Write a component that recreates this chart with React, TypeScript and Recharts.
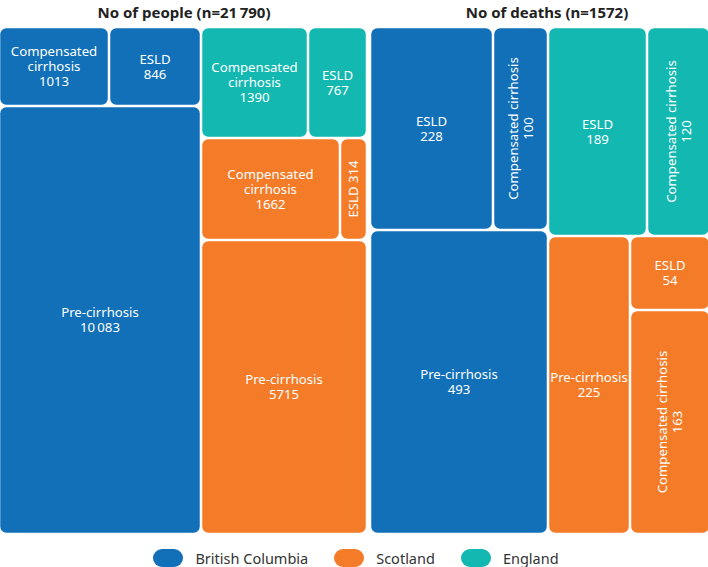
import React from 'react';
import { Treemap } from 'recharts';

// stage order used in the value arrays below
const stages = ['Pre-cirrhosis', 'Compensated cirrhosis', 'ESLD'];
const countries = ['British Columbia', 'Scotland', 'England'];

const peopleBritishColumbia = [10083, 1013, 846];
const peopleScotland = [5715, 1662, 314];
const peopleEngland = [0, 1390, 767]; // England cohort: cirrhosis only

const deathsBritishColumbia = [493, 100, 228];
const deathsScotland = [225, 163, 54];
const deathsEngland = [0, 120, 189];

const countryColors: Record<string, string> = {
  'British Columbia': '#1170b8',
  Scotland: '#f47b28',
  England: '#13b8b1',
};

const FONT = '"Noto Sans", sans-serif';
const LABEL_SIZE = 13.2;
const LINE_H = 15;

const leaf = (country: string, values: number[], stage: number) => ({
  name: stages[stage],
  country,
  size: values[stage],
});

// the groupings only decide how the cells are nested, like in the figure
const peopleTree = [
  {
    name: 'British Columbia',
    children: [1, 2, 0].map((s) => leaf('British Columbia', peopleBritishColumbia, s)),
  },
  {
    name: 'England and Scotland',
    children: [
      { name: 'England', children: [1, 2].map((s) => leaf('England', peopleEngland, s)) },
      { name: 'Scotland', children: [1, 2, 0].map((s) => leaf('Scotland', peopleScotland, s)) },
    ],
  },
];

const deathsTree = [
  {
    name: 'British Columbia',
    children: [2, 1, 0].map((s) => leaf('British Columbia', deathsBritishColumbia, s)),
  },
  {
    name: 'England and Scotland',
    children: [
      { name: 'England', children: [2, 1].map((s) => leaf('England', deathsEngland, s)) },
      {
        name: 'Scotland',
        children: [
          leaf('Scotland', deathsScotland, 0),
          { name: 'Scotland cirrhosis', children: [2, 1].map((s) => leaf('Scotland', deathsScotland, s)) },
        ],
      },
    ],
  },
];

const fmt = (v: number) => (v >= 10000 ? v.toString().replace(/\B(?=(\d{3})+(?!\d))/g, '\u2009') : String(v));

let ctx: CanvasRenderingContext2D | null = null;
const textWidth = (s: string) => {
  if (!ctx) ctx = document.createElement('canvas').getContext('2d');
  if (!ctx) return s.length * 7;
  ctx.font = `${LABEL_SIZE}px ${FONT}`;
  return ctx.measureText(s).width;
};

const wrap = (text: string, max: number) => {
  const lines: string[] = [];
  let cur = '';
  text.split(' ').forEach((w) => {
    const next = cur ? cur + ' ' + w : w;
    if (cur && textWidth(next) > max) {
      lines.push(cur);
      cur = w;
    } else cur = next;
  });
  if (cur) lines.push(cur);
  return lines;
};

const INSET = 1.25;

const CellContent = (props: any) => {
  const { x, y, width, height, name, country, size, children } = props;
  if (children && children.length) return null;
  if (!country || width <= 0 || height <= 0) return null;
  const rx = x + INSET;
  const ry = y + INSET;
  const w = width - INSET * 2;
  const h = height - INSET * 2;
  const cx = rx + w / 2;
  const cy = ry + h / 2;

  const longestWord = Math.max(...name.split(' ').map(textWidth));
  const horizontal = longestWord <= w;
  let lines: string[];
  let rotate = false;
  if (horizontal) {
    lines = [...wrap(name, w - 10), fmt(size)];
  } else {
    rotate = true;
    lines = w >= LINE_H * 2 + 6 ? [...wrap(name, h - 10), fmt(size)] : [`${name} ${fmt(size)}`];
  }
  const first = -((lines.length - 1) / 2) * LINE_H;

  return (
    <g>
      <rect x={rx} y={ry} width={w} height={h} rx={6} ry={6} fill={countryColors[country]} />
      <text
        x={cx}
        y={cy}
        textAnchor="middle"
        fill="#ffffff"
        fontFamily={FONT}
        fontSize={LABEL_SIZE}
        transform={rotate ? `rotate(-90 ${cx} ${cy})` : undefined}
      >
        {lines.map((l, i) => (
          <tspan key={i} x={cx} y={cy + first + i * LINE_H} dy="0.35em">
            {l}
          </tspan>
        ))}
      </text>
    </g>
  );
};

const titleStyle: React.CSSProperties = {
  position: 'absolute',
  top: 2,
  fontFamily: FONT,
  fontWeight: 700,
  fontSize: 15,
  color: '#222',
  textAlign: 'center',
  whiteSpace: 'nowrap',
};

const App = () => {
  return (
    <div style={{ position: 'absolute', left: 0, top: 0, width: 708, height: 567, background: '#fff' }}>
      <div style={{ ...titleStyle, left: 0, width: 368 }}>No of people (n=21{'\u2009'}790)</div>
      <div style={{ ...titleStyle, left: 378, width: 338 }}>No of deaths (n=1572)</div>

      <div style={{ position: 'absolute', left: -1, top: 27 }}>
        <Treemap
          width={368}
          height={507}
          data={peopleTree}
          dataKey="size"
          nameKey="name"
          type="flat"
          content={(p: any) => <CellContent {...p} />}
          isAnimationActive={false}
        />
      </div>
      <div style={{ position: 'absolute', left: 369.5, top: 27 }}>
        <Treemap
          width={340}
          height={507}
          data={deathsTree}
          dataKey="size"
          nameKey="name"
          type="flat"
          aspectRatio={2.5}
          content={(p: any) => <CellContent {...p} />}
          isAnimationActive={false}
        />
      </div>

      <div
        style={{
          position: 'absolute',
          left: 0,
          top: 548,
          width: 712,
          display: 'flex',
          justifyContent: 'center',
          alignItems: 'center',
          fontFamily: FONT,
          fontSize: 14.5,
          color: '#333',
        }}
      >
        {countries.map((c, i) => (
          <div key={c} style={{ display: 'flex', alignItems: 'center', marginLeft: i ? 26 : 0 }}>
            <div style={{ width: 30, height: 18, borderRadius: 9, background: countryColors[c], marginRight: 12 }} />
            <span>{c}</span>
          </div>
        ))}
      </div>
    </div>
  );
};

export default App;
